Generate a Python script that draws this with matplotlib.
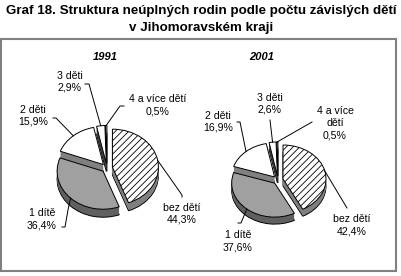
import numpy as np
import matplotlib
matplotlib.use("Agg")
import matplotlib.pyplot as plt
from matplotlib.patches import Rectangle

plt.rcParams['font.family'] = ['Liberation Sans', 'DejaVu Sans']
plt.rcParams['hatch.linewidth'] = 0.6

# data
categories = ['bez dětí', '1 dítě', '2 děti', '3 děti', '4 a více dětí']
years = ['1991', '2001']
share_1991 = [44.3, 36.4, 15.9, 2.9, 0.5]
share_2001 = [42.4, 37.6, 16.9, 2.6, 0.5]

top_colors = ['white', '#a0a0a0', 'white', 'white', 'white']
side_colors = ['#808080', '#606060', '#808080', '#404040', '#404040']
hatches = ['/////', '', '', '', '']

W, H = 402, 276
fig = plt.figure(figsize=(W / 100, H / 100), dpi=100)
fig.patch.set_facecolor('white')

# overlay in pixel coordinates for frame, texts and leader lines
ov = fig.add_axes([0, 0, 1, 1])
ov.set_xlim(0, W)
ov.set_ylim(H, 0)
ov.axis('off')
ov.set_zorder(5)
ov.patch.set_alpha(0)

ov.add_patch(Rectangle((1.5, 38.5), 395, 232.5, fill=False, ec='#808080', lw=1.5))
ov.text(201, 11, 'Graf 18. Struktura neúplných rodin podle počtu závislých dětí',
        ha='center', va='center', fontsize=9.6, fontweight='bold')
ov.text(201, 28, 'v Jihomoravském kraji', ha='center', va='center',
        fontsize=9.6, fontweight='bold')

explode = 0.12

def draw_pie(values, cx, cy, rx, ry, depth):
    ax = fig.add_axes([0, 0, 1, 1])
    n_layers = int(depth)
    for k in range(n_layers, 0, -1):
        edge = 'black' if k == n_layers else 'none'
        wedges, _ = ax.pie(values, colors=side_colors, startangle=90, counterclock=False,
                           explode=[explode] * len(values), center=(0, -k / ry),
                           wedgeprops=dict(edgecolor=edge, linewidth=0.7))
    wedges, _ = ax.pie(values, colors=top_colors, startangle=90, counterclock=False,
                       explode=[explode] * len(values), center=(0, 0),
                       wedgeprops=dict(edgecolor='black', linewidth=0.7))
    for w, h in zip(wedges, hatches):
        w.set_hatch(h)
    ax.set_aspect('auto')
    ax.set_xlim(-cx / rx, (W - cx) / rx)
    ax.set_ylim(-(H - cy) / ry, cy / ry)
    ax.axis('off')
    # anchor points (pixels) at the rim of each slice
    fr = np.array(values) / sum(values)
    start = 90 - 360 * (np.cumsum(fr) - fr / 2)
    anchors = []
    for a in np.radians(start):
        r = 1 + explode
        anchors.append((cx + rx * r * np.cos(a), cy - ry * r * np.sin(a)))
    return anchors

def fmt(v):
    return f'{v:.1f}%'.replace('.', ',')

# 1991
anc = draw_pie(share_1991, 107, 168, 46, 38, 8)
ov.text(105, 57, years[0], ha='center', va='center', fontsize=8, fontweight='bold', style='italic')
lab_1991 = [(182, 214, categories[0]), (42, 219, categories[1]), (33, 116, categories[2]),
            (70, 82, categories[3]), (158, 105, categories[4])]
lines_1991 = [[(182, 197), (182, 195)], [(62, 227), (65, 227), (68, 210)],
              [(53, 118), (56, 118)], [(85, 84), (89, 84)], [(124, 106), (120, 106)]]
for (x, y, c), v, a, ln in zip(lab_1991, share_1991, anc, lines_1991):
    ov.text(x, y, c + '\n' + fmt(v), ha='center', va='center', fontsize=7.6, linespacing=1.25)
    pts = ln + [a]
    ov.plot([p[0] for p in pts], [p[1] for p in pts], color='black', lw=0.7)

# 2001
anc = draw_pie(share_2001, 278, 180, 43, 34, 7)
ov.text(262, 57, years[1], ha='center', va='center', fontsize=8, fontweight='bold', style='italic')
lab_2001 = [(352, 225, categories[0]), (238, 241, categories[1]), (218, 122, categories[2]),
            (270, 104, categories[3]), (335, 123, '4 a více\ndětí')]
lines_2001 = [[(347, 208)], [(238, 223), (241, 223)], [(237, 122), (240, 122)],
              [(270, 120)], [(312, 122)]]
for (x, y, c), v, a, ln in zip(lab_2001, share_2001, anc, lines_2001):
    ov.text(x, y, c + '\n' + fmt(v), ha='center', va='center', fontsize=7.6, linespacing=1.25)
    pts = ln + [a]
    ov.plot([p[0] for p in pts], [p[1] for p in pts], color='black', lw=0.7)

fig.savefig('out.png', dpi=100, facecolor='white')
